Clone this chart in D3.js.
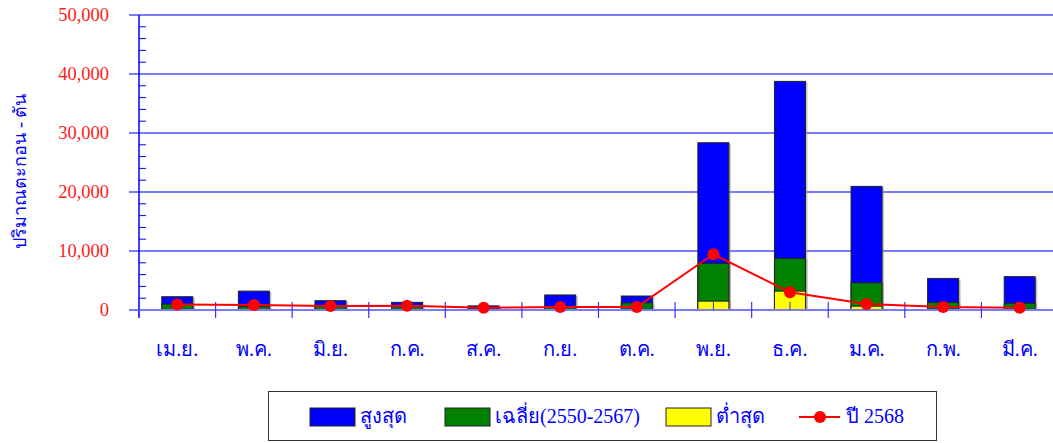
<!DOCTYPE html>
<html>
<head>
<meta charset="utf-8">
<script src="https://cdn.jsdelivr.net/npm/d3@7"></script>
<style>
  html, body { margin: 0; padding: 0; background: #fff; }
  svg { display: block; }
  text { font-family: "Liberation Serif", "Times New Roman", serif; }
</style>
</head>
<body>
<svg id="chart" width="1053" height="443"></svg>
<script>
const months = ["เม.ย.", "พ.ค.", "มิ.ย.", "ก.ค.", "ส.ค.", "ก.ย.", "ต.ค.", "พ.ย.", "ธ.ค.", "ม.ค.", "ก.พ.", "มี.ค."];
const maxValues = [2250, 3200, 1580, 1300, 700, 2550, 2370, 28350, 38750, 20950, 5350, 5650];
const avgValues = [1000, 560, 650, 550, 300, 500, 1200, 7900, 8750, 4600, 1300, 1150];
const minValues = [100, 80, 100, 80, 50, 60, 120, 1500, 3200, 650, 150, 120];
const year2568 = [950, 850, 680, 730, 400, 500, 500, 9450, 3000, 1020, 500, 400];
const yTicks = [0, 10000, 20000, 30000, 40000, 50000];
const yTitle = "ปริมาณตะกอน - ตัน";
// legend labels split into Thai part and numeric part
const legendLabels = [["สูงสุด", ""], ["เฉลี่ย", "(2550-2567)"], ["ต่ำสุด", ""], ["ปี", "2568"]];

const svg = d3.select("#chart");
const x = d3.scaleBand().domain(months).range([139, 1058]).padding(0);
const y = d3.scaleLinear().domain([0, 50000]).range([310, 15]);
const barW = 31;
const gridColor = "#7b7bff";
const axisBlue = "#0000ff";

// gridlines
svg.append("g").selectAll("line").data(yTicks).join("line")
  .attr("x1", 129).attr("x2", 1053)
  .attr("y1", d => y(d)).attr("y2", d => y(d))
  .attr("stroke", gridColor).attr("stroke-width", 2);

// minor ticks
const minor = d3.range(0, 50001, 2000).filter(v => v % 10000 !== 0);
svg.append("g").selectAll("line").data(minor).join("line")
  .attr("x1", 139).attr("x2", 146)
  .attr("y1", d => y(d)).attr("y2", d => y(d))
  .attr("stroke", axisBlue).attr("stroke-width", 1);

// y axis line
svg.append("line").attr("x1", 139).attr("x2", 139).attr("y1", 15).attr("y2", 318)
  .attr("stroke", axisBlue).attr("stroke-width", 1.5);

// y tick labels
svg.append("g").selectAll("text").data(yTicks).join("text")
  .attr("x", 109).attr("y", d => y(d) + 6)
  .attr("text-anchor", "end")
  .attr("font-size", 18.5)
  .attr("fill", "#ff1a1a")
  .text(d => d3.format(",")(d));

// y title
svg.append("text")
  .attr("transform", "translate(26,171) rotate(-90)")
  .attr("text-anchor", "middle")
  .attr("font-size", 18)
  .attr("fill", axisBlue)
  .text(yTitle);

// bars
function drawBars(values, color) {
  const g = svg.append("g");
  g.selectAll("rect.sh").data(values).join("rect")
    .attr("class", "sh")
    .attr("x", (d, i) => x(months[i]) + x.bandwidth() / 2 - barW / 2 + 2)
    .attr("y", d => y(d) + 1)
    .attr("width", barW).attr("height", d => y(0) - y(d))
    .attr("fill", "#999").attr("opacity", 0.6);
  g.selectAll("rect.b").data(values).join("rect")
    .attr("class", "b")
    .attr("x", (d, i) => x(months[i]) + x.bandwidth() / 2 - barW / 2)
    .attr("y", d => y(d))
    .attr("width", barW).attr("height", d => y(0) - y(d))
    .attr("fill", color).attr("stroke", "#222").attr("stroke-width", 1);
}
drawBars(maxValues, "#0000ff");
drawBars(avgValues, "#008000");
drawBars(minValues, "#ffff00");

// x axis baseline
svg.append("line").attr("x1", 129).attr("x2", 1053).attr("y1", 310).attr("y2", 310)
  .attr("stroke", gridColor).attr("stroke-width", 2);

// category boundary ticks
const bounds = months.map(m => x(m)).concat([x(months[months.length - 1]) + x.bandwidth()]);
svg.append("g").selectAll("line").data(bounds).join("line")
  .attr("x1", d => d).attr("x2", d => d).attr("y1", 302).attr("y2", 318)
  .attr("stroke", "#3333ff").attr("stroke-width", 1.2);
// center ticks
svg.append("g").selectAll("line").data(months).join("line")
  .attr("x1", d => x(d) + x.bandwidth() / 2).attr("x2", d => x(d) + x.bandwidth() / 2)
  .attr("y1", 302).attr("y2", 310)
  .attr("stroke", "#3333ff").attr("stroke-width", 1);

// x labels
svg.append("g").selectAll("text").data(months).join("text")
  .attr("x", d => x(d) + x.bandwidth() / 2)
  .attr("y", 356)
  .attr("text-anchor", "middle")
  .attr("font-size", 20)
  .attr("fill", axisBlue)
  .text(d => d);

// line series
const line = d3.line().x((d, i) => x(months[i]) + x.bandwidth() / 2).y(d => y(d));
svg.append("path").datum(year2568).attr("d", line)
  .attr("fill", "none").attr("stroke", "#ff0000").attr("stroke-width", 2);
svg.append("g").selectAll("circle").data(year2568).join("circle")
  .attr("cx", (d, i) => x(months[i]) + x.bandwidth() / 2)
  .attr("cy", d => y(d)).attr("r", 6).attr("fill", "#ff0000");

// legend
const lg = svg.append("g");
lg.append("rect").attr("x", 268.5).attr("y", 391.5).attr("width", 668).attr("height", 49)
  .attr("fill", "#fff").attr("stroke", "#333").attr("stroke-width", 1);
function legendText(xPos, parts, gap) {
  const t = lg.append("text").attr("x", xPos).attr("y", 423).attr("font-size", 20)
    .attr("fill", axisBlue).text(parts[0]);
  if (parts[1]) {
    const w = t.node().getComputedTextLength();
    lg.append("text").attr("x", xPos + w + gap).attr("y", 423).attr("font-size", 20)
      .attr("fill", axisBlue).text(parts[1]);
  }
}
const swatches = [
  { x: 310, color: "#0000ff", label: legendLabels[0] },
  { x: 445, color: "#008000", label: legendLabels[1] },
  { x: 666, color: "#ffff00", label: legendLabels[2] }
];
swatches.forEach(s => {
  lg.append("rect").attr("x", s.x).attr("y", 408).attr("width", 45).attr("height", 18)
    .attr("fill", s.color).attr("stroke", "#222").attr("stroke-width", 1);
  legendText(s.x + 50, s.label, 0);
});
lg.append("line").attr("x1", 799).attr("x2", 840).attr("y1", 417).attr("y2", 417)
  .attr("stroke", "#ff0000").attr("stroke-width", 2);
lg.append("circle").attr("cx", 820).attr("cy", 417).attr("r", 6).attr("fill", "#ff0000");
legendText(846, legendLabels[3], 5);
</script>
</body>
</html>
